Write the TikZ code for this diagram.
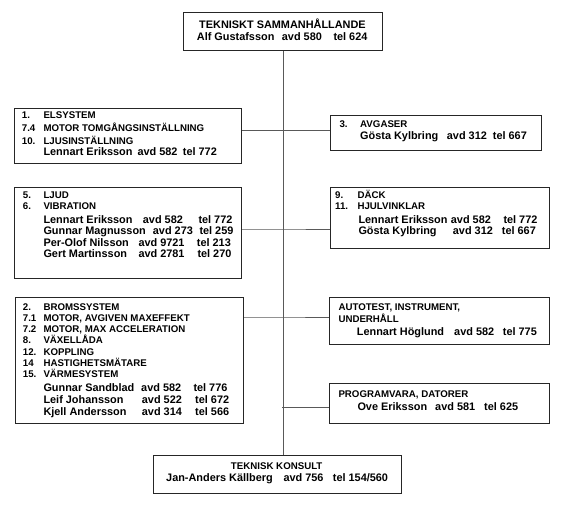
\documentclass[tikz,border=0pt]{standalone}
\usepackage{fontspec}
\setmainfont{Liberation Sans}
\newcommand\itemline[6]{%
  \node[itm] (#1n) at (#3,#2) {#4};
  \node[itm] (#1t) at (#5,#2) {#6};}
\newcommand\personline[8]{%
  \node[nam] (#1n) at (#3,#2) {#4};
  \node[nam] (#1a) at (#5,#2) {#6};
  \node[nam] (#1t) at (#7,#2) {#8};}
\begin{document}
\begin{tikzpicture}[x=1pt,y=-1pt,
  box/.style={draw=black!85, line width=0.9pt, inner sep=0pt, anchor=north west, fill=white},
  link/.style={draw=black!65, line width=0.7pt},
  itm/.style={inner sep=0pt, anchor=base west, font=\fontsize{9.7}{11}\selectfont\bfseries},
  nam/.style={inner sep=0pt, anchor=base west, font=\fontsize{10.9}{12}\selectfont\bfseries}]
\useasboundingbox[fill=white] (0,0) rectangle (562,512);

% boxes
\node[box, minimum width=199pt, minimum height=38pt] (top) at (183,12) {};
\node[box, minimum width=227pt, minimum height=55pt] (b1) at (14,108) {};
\node[box, minimum width=211pt, minimum height=35pt] (avg) at (330,115) {};
\node[box, minimum width=227pt, minimum height=91pt] (b2) at (14,187) {};
\node[box, minimum width=219pt, minimum height=61pt] (dack) at (330,187) {};
\node[box, minimum width=228pt, minimum height=126pt] (b3) at (15,297) {};
\node[box, minimum width=220pt, minimum height=47pt] (auto) at (329,297) {};
\node[box, minimum width=220pt, minimum height=40pt] (prog) at (329,383) {};
\node[box, minimum width=248pt, minimum height=38pt] (bot) at (153,455) {};

% connectors
\coordinate (sp1) at (282,130.5);
\coordinate (sp2) at (282,229);
\coordinate (sp3) at (282,317);
\coordinate (sp4) at (282,407);
\draw[link] (top.south) -- (top.south |- bot.north);
\draw[link] (b1.east |- sp1) -- (sp1) -- (avg.west |- sp1);
\draw[link] (b2.east |- sp2) -- (sp2) -- (dack.west |- sp2);
\draw[link] (b3.east |- sp3) -- (sp3) -- (auto.west |- sp3);
\draw[link] (sp4) -- (prog.west |- sp4);

% top
\node[nam, anchor=base] (toptitle) at (282.5,28) {TEKNISKT SAMMANHÅLLANDE};
\personline{topp}{40}{196.7}{Alf Gustafsson}{281.7}{avd 580}{333.3}{tel 624}

% box 1
\itemline{ai}{118.3}{21.7}{1.}{43.3}{ELSYSTEM}
\itemline{aii}{131.3}{21.7}{7.4}{43.3}{MOTOR TOMGÅNGSINSTÄLLNING}
\itemline{aiii}{144}{21.7}{10.}{43.3}{LJUSINSTÄLLNING}
\personline{ap}{155.7}{43.3}{Lennart Eriksson}{137.3}{avd 582}{182.7}{tel 772}

% avgaser
\itemline{bi}{127.5}{339.3}{3.}{360}{AVGASER}
\personline{bp}{139.5}{360}{Gösta Kylbring}{446.7}{avd 312}{492.7}{tel 667}

% box 2
\itemline{ci}{198.3}{22.7}{5.}{43.3}{LJUD}
\itemline{cii}{209.3}{22.7}{6.}{43.3}{VIBRATION}
\personline{cpa}{223}{43.3}{Lennart Eriksson}{142.7}{avd 582}{198.3}{tel 772}
\personline{cpb}{234.5}{43.3}{Gunnar Magnusson}{152.7}{avd 273}{199.3}{tel 259}
\personline{cpc}{246}{43.3}{Per-Olof Nilsson}{138.3}{avd 9721}{196.7}{tel 213}
\personline{cpd}{257.5}{43.3}{Gert Martinsson}{138.3}{avd 2781}{197.3}{tel 270}

% dack
\itemline{di}{198.5}{335}{9.}{357.3}{DÄCK}
\itemline{dii}{209.3}{335}{11.}{357.3}{HJULVINKLAR}
\personline{dpa}{223.3}{358.3}{Lennart Eriksson}{450.7}{avd 582}{503.3}{tel 772}
\personline{dpb}{234.3}{358.3}{Gösta Kylbring}{452.7}{avd 312}{501.7}{tel 667}

% box 3
\itemline{ei}{310}{22.7}{2.}{43.3}{BROMSSYSTEM}
\itemline{eii}{321.3}{22.7}{7.1}{43.3}{MOTOR, AVGIVEN MAXEFFEKT}
\itemline{eiii}{332.6}{22.7}{7.2}{43.3}{MOTOR, MAX ACCELERATION}
\itemline{eiv}{343.9}{22.7}{8.}{43.3}{VÄXELLÅDA}
\itemline{ev}{355.2}{22.7}{12.}{43.3}{KOPPLING}
\itemline{evi}{366.5}{22.7}{14}{43.3}{HASTIGHETSMÄTARE}
\itemline{evii}{377.8}{22.7}{15.}{43.3}{VÄRMESYSTEM}
\personline{epa}{391.3}{43.3}{Gunnar Sandblad}{141}{avd 582}{193.3}{tel 776}
\personline{epb}{403.3}{43.3}{Leif Johansson}{141.7}{avd 522}{195}{tel 672}
\personline{epc}{415.3}{43.3}{Kjell Andersson}{141.7}{avd 314}{195}{tel 566}

% autotest
\node[itm] (fi) at (338.3,310) {AUTOTEST, INSTRUMENT,};
\node[itm] (fii) at (338.3,322.8) {UNDERHÅLL};
\personline{fp}{335}{356.7}{Lennart Höglund}{454}{avd 582}{502.7}{tel 775}

% programvara
\node[itm] (gi) at (338.3,397.8) {PROGRAMVARA, DATORER};
\personline{gp}{410}{357.3}{Ove Eriksson}{435}{avd 581}{484}{tel 625}

% bottom
\node[itm, anchor=base] (bottitle) at (276.7,469) {TEKNISK KONSULT};
\personline{hp}{481}{166}{Jan-Anders Källberg}{283.3}{avd 756}{332.7}{tel 154/560}
\end{tikzpicture}
\end{document}
